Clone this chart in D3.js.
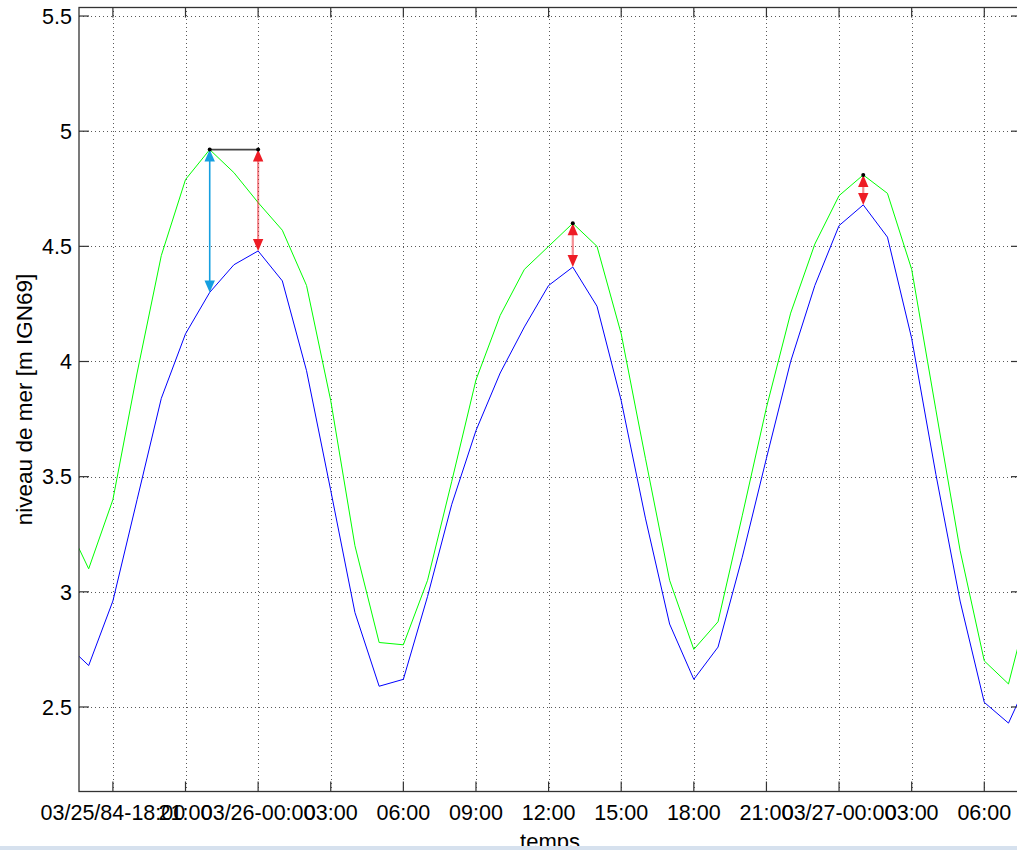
<!DOCTYPE html>
<html>
<head>
<meta charset="utf-8">
<script src="https://d3js.org/d3.v7.min.js"></script>
<style>
  body { margin: 0; background: #fff; }
  text { font-family: "Liberation Sans", Arial, sans-serif; fill: #000; }
  .grid line { stroke: #000; stroke-opacity: 0.65; stroke-dasharray: 1,3; shape-rendering: crispEdges; }
  .grid path { stroke-width: 0; }
</style>
</head>
<body>
<script>
// hourly sea level, 03/25/84 16:00 -> 03/27/84 08:00
var firstHour = Date.UTC(1984, 2, 25, 16);
var green = [3.32, 3.10, 3.40, 3.95, 4.46, 4.79, 4.92, 4.82, 4.69, 4.57,
             4.33, 3.83, 3.20, 2.78, 2.77, 3.05, 3.48, 3.92, 4.20, 4.40,
             4.50, 4.60, 4.50, 4.12, 3.58, 3.05, 2.75, 2.87, 3.33, 3.80,
             4.21, 4.51, 4.72, 4.81, 4.73, 4.40, 3.79, 3.18, 2.70, 2.60, 3.01];
var blue  = [2.78, 2.68, 2.96, 3.40, 3.84, 4.12, 4.30, 4.42, 4.48, 4.35,
             3.96, 3.44, 2.91, 2.59, 2.62, 2.98, 3.38, 3.70, 3.95, 4.15,
             4.33, 4.41, 4.24, 3.83, 3.32, 2.86, 2.62, 2.76, 3.15, 3.58,
             4.00, 4.33, 4.59, 4.68, 4.54, 4.10, 3.51, 2.96, 2.52, 2.43, 2.66];

var tickLabels = ["03/25/84-18:00", "21:00", "03/26-00:00", "03:00", "06:00", "09:00",
                  "12:00", "15:00", "18:00", "21:00", "03/27-00:00", "03:00", "06:00"];
var yTicks = [2.5, 3, 3.5, 4, 4.5, 5, 5.5];

// arrows: index of the time where drawn, index of the green peak (top), index of blue (bottom)
var arrowAt     = [6, 8, 21, 33];
var arrowTop    = [6, 6, 21, 33];
var arrowBottom = [6, 8, 21, 33];
var arrowColor  = ["#159fe0", "#ee1c25", "#ee1c25", "#ee1c25"];

var times = green.map(function(d, i) { return new Date(firstHour + i * 3600e3); });

var W = 1017, H = 850;
var margin = {top: 7.5, left: 79},
    width = 942, height = 784;

var svg = d3.select("body").append("svg")
    .attr("width", W).attr("height", H);

var g = svg.append("g")
    .attr("transform", "translate(" + margin.left + "," + margin.top + ")");

var x = d3.scaleUtc()
    .domain([new Date(Date.UTC(1984, 2, 25, 16, 36)), new Date(Date.UTC(1984, 2, 27, 7, 31))])
    .range([0, width]);
var y = d3.scaleLinear().domain([2.133, 5.537]).range([height, 0]);

var tickTimes = d3.utcHour.range(new Date(Date.UTC(1984, 2, 25, 18)), new Date(Date.UTC(1984, 2, 27, 7)), 3);

g.append("defs").append("clipPath").attr("id", "clip")
  .append("rect").attr("width", width).attr("height", height);

// grid
g.append("g").attr("class", "grid")
  .attr("transform", "translate(0," + height + ")")
  .call(d3.axisBottom(x).tickValues(tickTimes).tickSize(-height).tickFormat(""));
g.append("g").attr("class", "grid")
  .call(d3.axisLeft(y).tickValues(yTicks).tickSize(-width).tickFormat(""));

// series
var line = function(vals) {
  return d3.line()
    .x(function(d, i) { return x(times[i]); })
    .y(function(d) { return y(d); })(vals);
};
var plot = g.append("g").attr("clip-path", "url(#clip)");
plot.append("path").attr("d", line(green)).attr("fill", "none").attr("stroke", "#00ff00").attr("stroke-width", 1);
plot.append("path").attr("d", line(blue)).attr("fill", "none").attr("stroke", "#0000ff").attr("stroke-width", 1);

// annotations
g.append("line")
  .attr("x1", x(times[arrowTop[0]])).attr("x2", x(times[arrowAt[1]]))
  .attr("y1", y(green[arrowTop[0]])).attr("y2", y(green[arrowTop[0]]))
  .attr("stroke", "#444").attr("stroke-width", 1.6);

var headL = 12, headW = 5.2;
arrowAt.forEach(function(ai, k) {
  var cx = x(times[ai]);
  var yt = y(green[arrowTop[k]]), yb = y(blue[arrowBottom[k]]);
  var c = arrowColor[k];
  g.append("line").attr("x1", cx).attr("x2", cx).attr("y1", yt + 4).attr("y2", yb - 4)
    .attr("stroke", c)
    .attr("stroke-width", k === 0 ? 1.6 : 2.2)
    .attr("stroke-opacity", k === 0 ? 1 : 0.5);
  g.append("path")
    .attr("d", "M" + cx + "," + yt + "L" + (cx - headW) + "," + (yt + headL) + "L" + (cx + headW) + "," + (yt + headL) + "Z")
    .attr("fill", c);
  g.append("path")
    .attr("d", "M" + cx + "," + yb + "L" + (cx - headW) + "," + (yb - headL) + "L" + (cx + headW) + "," + (yb - headL) + "Z")
    .attr("fill", c);
  g.append("circle").attr("cx", cx).attr("cy", yt).attr("r", 2).attr("fill", "#000");
});

// axes box with inward ticks
var axisColor = "#333";
g.append("rect").attr("width", width).attr("height", height)
  .attr("fill", "none").attr("stroke", axisColor).attr("stroke-width", 1.3);

g.selectAll(".tb").data(tickTimes).enter().append("line")
  .attr("x1", function(d) { return x(d); }).attr("x2", function(d) { return x(d); })
  .attr("y1", height).attr("y2", height - 10).attr("stroke", axisColor).attr("stroke-width", 1.2);
g.selectAll(".tt").data(tickTimes).enter().append("line")
  .attr("x1", function(d) { return x(d); }).attr("x2", function(d) { return x(d); })
  .attr("y1", 0).attr("y2", 10).attr("stroke", axisColor).attr("stroke-width", 1.2);
g.selectAll(".tl").data(yTicks).enter().append("line")
  .attr("x1", 0).attr("x2", 10)
  .attr("y1", function(d) { return y(d); }).attr("y2", function(d) { return y(d); })
  .attr("stroke", axisColor).attr("stroke-width", 1.2);
g.selectAll(".tr").data(yTicks).enter().append("line")
  .attr("x1", width).attr("x2", width - 10)
  .attr("y1", function(d) { return y(d); }).attr("y2", function(d) { return y(d); })
  .attr("stroke", axisColor).attr("stroke-width", 1.2);

// tick labels
g.selectAll(".xl").data(tickTimes).enter().append("text")
  .attr("x", function(d) { return x(d); })
  .attr("y", height + 28)
  .attr("text-anchor", "middle")
  .style("font-size", "21.5px")
  .text(function(d, i) { return tickLabels[i]; });

g.selectAll(".yl").data(yTicks).enter().append("text")
  .attr("x", -7)
  .attr("y", function(d) { return y(d); })
  .attr("dy", "0.36em")
  .attr("text-anchor", "end")
  .style("font-size", "21.5px")
  .text(function(d) { return d; });

svg.append("text")
  .attr("x", margin.left + width / 2)
  .attr("y", 849)
  .attr("text-anchor", "middle")
  .style("font-size", "22px")
  .text("temps");

svg.append("text")
  .attr("transform", "translate(32," + (margin.top + height / 2) + ") rotate(-90)")
  .attr("text-anchor", "middle")
  .style("font-size", "22.5px")
  .text("niveau de mer [m IGN69]");

// window border strip at the bottom of the capture
svg.append("rect").attr("x", 0).attr("y", 846).attr("width", W).attr("height", 4).attr("fill", "#d6e1ee");
</script>
</body>
</html>
